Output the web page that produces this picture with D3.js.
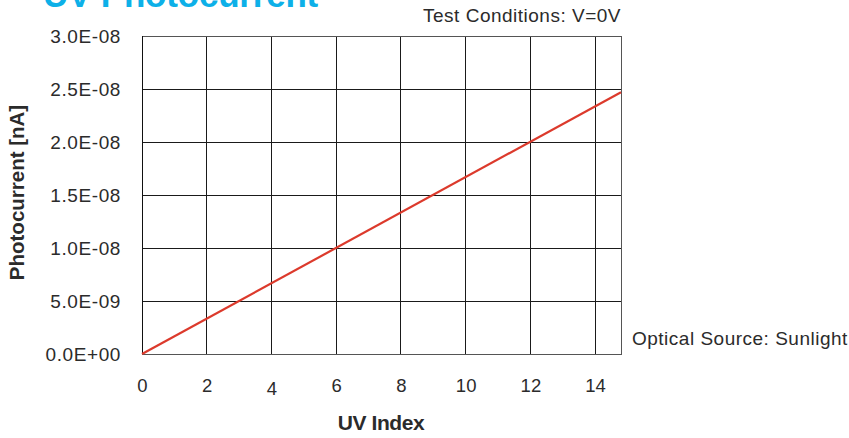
<!DOCTYPE html>
<html><head><meta charset="utf-8">
<script src="https://cdn.jsdelivr.net/npm/d3@7"></script>
<style>body{margin:0;background:#fff}svg{display:block}text{font-family:"Liberation Sans",Arial,sans-serif}</style>
</head><body><svg id="c" width="849" height="438"></svg>
<script>
const xTicks = [0, 2, 4, 6, 8, 10, 12, 14];
const yTicks = [0, 5e-9, 1e-8, 1.5e-8, 2e-8, 2.5e-8, 3e-8];
const yTickLabels = ["0.0E+00", "5.0E-09", "1.0E-08", "1.5E-08", "2.0E-08", "2.5E-08", "3.0E-08"];
const uvIndex = [0, 14.8];
const photocurrent = [0, 2.47e-8];
const title = "UV Photocurrent";
const xTitle = "UV Index";
const yTitle = "Photocurrent [nA]";
const noteTop = "Test Conditions: V=0V";
const noteRight = "Optical Source: Sunlight";

const svg = d3.select("#c");
const L = 142, R = 621, T = 36, B = 354;
const x = d3.scaleLinear().domain([0, 14.8]).range([L, R]);
const y = d3.scaleLinear().domain([0, 3e-8]).range([B, T]);
const FONT = "Liberation Sans, Arial, sans-serif";

// grid
svg.append("g").selectAll("line").data(xTicks.slice(1)).join("line")
  .attr("x1", d => x(d)).attr("x2", d => x(d)).attr("y1", T).attr("y2", B)
  .attr("stroke", "#1a1a1a").attr("stroke-width", 1).attr("shape-rendering", "crispEdges");
svg.append("g").selectAll("line").data(yTicks.slice(1, -1)).join("line")
  .attr("x1", L).attr("x2", R).attr("y1", d => y(d)).attr("y2", d => y(d))
  .attr("stroke", "#1a1a1a").attr("stroke-width", 1).attr("shape-rendering", "crispEdges");
// frame
svg.append("rect").attr("x", L).attr("y", T).attr("width", R - L).attr("height", B - T)
  .attr("fill", "none").attr("stroke", "#555").attr("stroke-width", 1).attr("shape-rendering", "crispEdges");
svg.append("line").attr("x1", L).attr("x2", L).attr("y1", T).attr("y2", B)
  .attr("stroke", "#111").attr("shape-rendering", "crispEdges");

// axes labels via d3 axes
const yAxis = d3.axisLeft(y).tickValues(yTicks).tickFormat((d, i) => yTickLabels[i]).tickSize(0).tickPadding(21);
const gy = svg.append("g").attr("transform", `translate(${L},0)`).call(yAxis);
gy.select(".domain").remove();
gy.selectAll("text").attr("font-size", 19).attr("fill", "#2b2b2b").attr("font-family", FONT)
  .attr("letter-spacing", 0.6);

const xAxis = d3.axisBottom(x).tickValues(xTicks).tickFormat(d3.format("d")).tickSize(0);
const gx = svg.append("g").attr("transform", `translate(0,${B})`).call(xAxis);
gx.select(".domain").remove();
gx.selectAll("text").attr("font-size", 18.5).attr("fill", "#2b2b2b").attr("font-family", FONT)
  .attr("y", d => d === 4 ? 35 : 32).attr("dy", "0.35em");

// line
const pts = uvIndex.map((u, i) => [u, photocurrent[i]]);
svg.append("path").datum(pts)
  .attr("d", d3.line().x(d => x(d[0])).y(d => y(d[1])))
  .attr("fill", "none").attr("stroke", "#dc3a2c").attr("stroke-width", 2.2);

// titles
svg.append("text").attr("x", 43).attr("y", 7).text(title)
  .attr("font-size", 35).attr("font-weight", "bold").attr("fill", "#0db0e8").attr("letter-spacing", -0.2);
svg.append("text").attr("x", 621).attr("y", 22).attr("text-anchor", "end").text(noteTop)
  .attr("font-size", 19).attr("fill", "#2b2b2b").attr("letter-spacing", 0.5);
svg.append("text").attr("x", 632).attr("y", 345).text(noteRight)
  .attr("font-size", 19).attr("fill", "#2b2b2b").attr("letter-spacing", 0.5);
svg.append("text").attr("x", 381).attr("y", 430).attr("text-anchor", "middle").text(xTitle)
  .attr("font-size", 21).attr("font-weight", "bold").attr("fill", "#2b2b2b").attr("letter-spacing", -0.4);
svg.append("text").attr("transform", "translate(24,192.5) rotate(-90)").attr("text-anchor", "middle").text(yTitle)
  .attr("font-size", 20.5).attr("font-weight", "bold").attr("fill", "#2b2b2b");
</script></body></html>
